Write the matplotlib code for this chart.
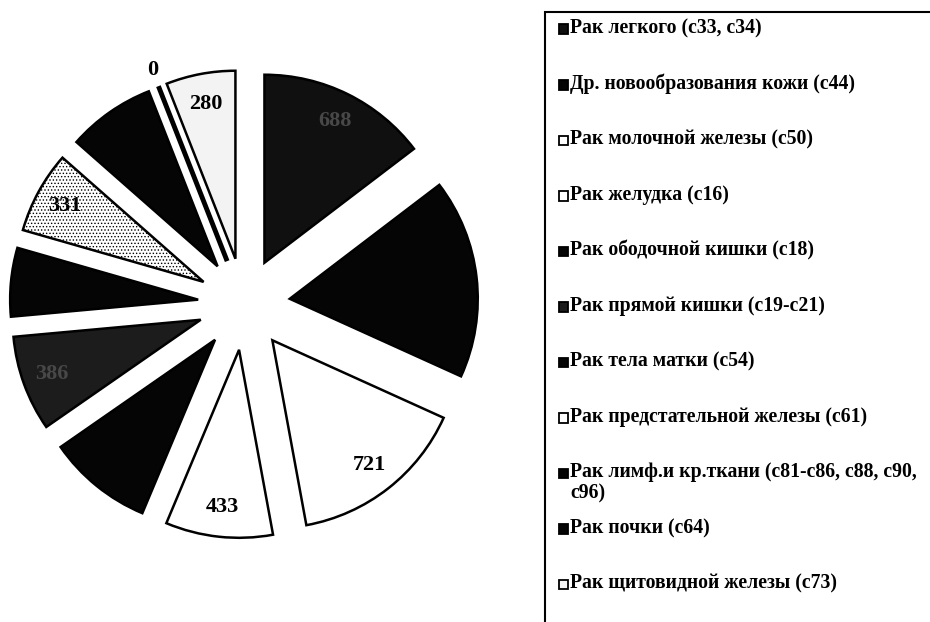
import numpy as np
import matplotlib
matplotlib.use("Agg")
from matplotlib import pyplot as plt
from matplotlib.patches import Rectangle

plt.rcParams['font.family'] = ['Liberation Serif', 'DejaVu Serif']
plt.rcParams['font.weight'] = 'bold'
plt.rcParams['hatch.linewidth'] = 0.6

categories = [
    "Рак легкого (c33, c34)",
    "Др. новообразования кожи (c44)",
    "Рак молочной железы (c50)",
    "Рак желудка (c16)",
    "Рак ободочной кишки (c18)",
    "Рак прямой кишки (c19-c21)",
    "Рак тела матки (c54)",
    "Рак предстательной железы (c61)",
    "Рак лимф.и кр.ткани (c81-c86, c88, c90,\nc96)",
    "Рак почки (c64)",
    "Рак щитовидной железы (c73)",
]
values = [688, 805, 721, 433, 424, 386, 277, 331, 355, 0, 280]
colors = ['#101010', '#050505', 'white', 'white', '#050505', '#1c1c1c',
          '#050505', 'white', '#050505', '#050505', '#f3f3f3']
hatches = ['', '', '', '', '', '', '', '.....', '', '', '']
# labels on dark slices are barely visible in the source
label_colors = ['#484848', None, 'black', 'black', None, '#484848',
                None, 'black', None, 'black', 'black']

fig = plt.figure(figsize=(9.3, 6.22), dpi=100)

# pie axes: square, centred on the pie
cx, cy, half = 244, 304, 250
ax = fig.add_axes([(cx - half) / 930, (622 - cy - half) / 622, 2 * half / 930, 2 * half / 622])
wedges, _ = ax.pie(values, explode=[0.245] * len(values), startangle=90, counterclock=False,
                   colors=colors, radius=1,
                   wedgeprops=dict(edgecolor='black', linewidth=1.8))
lim = half / 188
ax.set_xlim(-lim, lim)
ax.set_ylim(-lim, lim)
ax.set_aspect('equal')
ax.axis('off')

for w, h in zip(wedges, hatches):
    if h:
        w.set_hatch(h)

for w, v, c in zip(wedges, values, label_colors):
    if c is None:
        continue
    mid = np.deg2rad((w.theta1 + w.theta2) / 2)
    dist = 1.09 if v == 0 else 0.84
    x = w.center[0] + dist * w.r * np.cos(mid)
    y = w.center[1] + dist * w.r * np.sin(mid)
    if v == 0:
        w.set_linewidth(3.5)
    ax.text(x, y, str(v), ha='center', va='center', fontsize=16,
            fontweight='bold', color=c)

# legend box, drawn by hand so the wrapped entry keeps the even spacing
fig.patches.append(Rectangle((545 / 930, -0.05), 0.5, 1 - 12 / 622 + 0.05,
                             transform=fig.transFigure, fill=False,
                             edgecolor='black', linewidth=1.5))
for i, (lab, col) in enumerate(zip(categories, colors)):
    yc = 29.5 + i * 55.5
    fig.patches.append(Rectangle((559 / 930, 1 - (yc + 4.5) / 622), 9 / 930, 9.5 / 622,
                                 transform=fig.transFigure, facecolor=col,
                                 edgecolor='black', linewidth=1.3))
    fig.text(570 / 930, 1 - (yc - 11) / 622, lab, ha='left', va='top',
             fontsize=14.2, fontweight='bold', linespacing=1.05)

fig.savefig("out.png", dpi=100)
